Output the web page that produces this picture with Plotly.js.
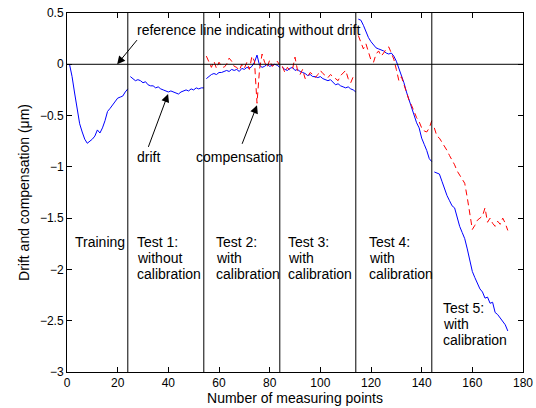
<!DOCTYPE html>
<html>
<head>
<meta charset="utf-8">
<script src="https://cdn.plot.ly/plotly-3.0.1.min.js"></script>
<style>html,body{margin:0;padding:0;background:#fff;}#chart{width:536px;height:408px;}</style>
</head>
<body>
<div id="chart"></div>
<script>
// Drift (blue) per segment, points are indexed 1..174
var driftTraining = [0,-0.12,-0.28,-0.45,-0.58,-0.66,-0.73,-0.77,-0.75,-0.73,-0.70,-0.64,-0.67,-0.62,-0.55,-0.46,-0.43,-0.40,-0.36,-0.33,-0.32,-0.31,-0.27,-0.24];
var driftTest1 = [-0.12,-0.14,-0.16,-0.15,-0.16,-0.18,-0.17,-0.20,-0.21,-0.21,-0.23,-0.22,-0.24,-0.25,-0.26,-0.27,-0.26,-0.27,-0.28,-0.29,-0.27,-0.26,-0.25,-0.26,-0.24,-0.25,-0.23,-0.24,-0.23,-0.23];
var driftTest2 = [-0.14,-0.12,-0.10,-0.09,-0.10,-0.08,-0.08,-0.07,-0.06,-0.07,-0.05,-0.06,-0.05,-0.07,-0.04,-0.05,-0.03,-0.04,-0.02,0.02,0.09,-0.01,-0.03,-0.02,0.00,-0.02,-0.01,0.00,-0.01,-0.03];
var driftTest3 = [-0.03,-0.05,-0.06,-0.04,-0.03,-0.06,-0.05,-0.07,-0.08,-0.09,-0.11,-0.10,-0.12,-0.12,-0.13,-0.12,-0.14,-0.15,-0.16,-0.15,-0.18,-0.20,-0.19,-0.21,-0.22,-0.23,-0.22,-0.24,-0.25,-0.27];
var driftTest4 = [0.44,0.43,0.38,0.31,0.26,0.22,0.19,0.16,0.15,0.14,0.13,0.11,0.10,0.11,0.08,0.03,-0.04,-0.10,-0.18,-0.27,-0.35,-0.43,-0.50,-0.57,-0.62,-0.72,-0.78,-0.84,-0.92,-0.95];
var driftTest5 = [-1.05,-1.06,-1.07,-1.14,-1.22,-1.28,-1.33,-1.38,-1.40,-1.50,-1.58,-1.64,-1.70,-1.80,-1.92,-2.02,-2.08,-2.13,-2.19,-2.22,-2.28,-2.27,-2.33,-2.32,-2.42,-2.44,-2.47,-2.51,-2.54,-2.60];
// Compensation (red dashed), tests 2..5
var compTest2 = [0.08,0.02,-0.03,0.03,-0.04,0.02,-0.02,-0.03,0.00,0.06,0.03,-0.02,-0.03,-0.06,0.00,-0.04,0.02,-0.05,0.08,0.03,-0.38,-0.05,0.10,0.02,-0.03,0.04,-0.02,0.00,0.03,-0.01];
var compTest3 = [-0.02,-0.08,-0.03,-0.06,-0.05,0.07,-0.06,-0.10,-0.05,-0.14,-0.12,-0.08,-0.10,-0.13,-0.10,-0.06,-0.09,-0.11,-0.13,-0.10,-0.12,-0.14,-0.16,-0.11,-0.08,-0.06,-0.14,-0.18,-0.12,-0.10];
var compTest4 = [0.28,0.22,0.15,0.20,0.12,0.04,0.02,0.10,0.13,0.08,0.11,0.15,0.17,0.10,0.05,-0.05,-0.16,-0.12,-0.20,-0.28,-0.35,-0.40,-0.46,-0.52,-0.56,-0.62,-0.65,-0.66,-0.62,-0.55];
var compTest5 = [-0.62,-0.70,-0.72,-0.76,-0.79,-0.84,-0.89,-0.93,-0.98,-1.04,-1.08,-1.12,-1.16,-1.30,-1.48,-1.61,-1.57,-1.52,-1.50,-1.48,-1.40,-1.54,-1.50,-1.55,-1.58,-1.53,-1.56,-1.50,-1.55,-1.62];
var boundaries = [24,54,84,114,144];
var segStarts = [1,25,55,85,115,145];
var xTicks = [0,20,40,60,80,100,120,140,160,180];
var yTicks = [-3,-2.5,-2,-1.5,-1,-0.5,0,0.5];
var phaseLabels = [['Training'],['Test 1:','without','calibration'],['Test 2:','with','calibration'],['Test 3:','with','calibration'],['Test 4:','with','calibration'],['Test 5:','with','calibration']];

function xs(start, n){var a=[];for(var i=0;i<n;i++)a.push(start+i);return a;}
var driftSegs = [driftTraining,driftTest1,driftTest2,driftTest3,driftTest4,driftTest5];
var compSegs = [null,null,compTest2,compTest3,compTest4,compTest5];
var traces = [];
driftSegs.forEach(function(s,i){
  traces.push({x:xs(segStarts[i],s.length),y:s,mode:'lines',line:{color:'#0000ff',width:1},showlegend:false,hoverinfo:'skip'});
});
compSegs.forEach(function(s,i){
  if(!s) return;
  traces.push({x:xs(segStarts[i],s.length),y:s,mode:'lines',line:{color:'#ff0000',width:1,dash:'6px,4px'},showlegend:false,hoverinfo:'skip'});
});

var shapes = boundaries.map(function(b){
  return {type:'line',xref:'x',yref:'y',x0:b,x1:b,y0:-3,y1:0.5,line:{color:'#000',width:1}};
});
shapes.push({type:'line',xref:'x',yref:'y',x0:0,x1:180,y0:0,y1:0,line:{color:'#000',width:1}});

var FT = {family:'Liberation Sans, Arial, sans-serif',size:12,color:'#000'};
var F = {family:'Liberation Sans, Arial, sans-serif',size:14,color:'#000'};
var ann = [];
// label anchor positions (left x, first line y) and line step in data units
var labelPos = [[2.8,-1.733],[27.3,-1.733],[58.5,-1.733],[86.9,-1.733],[118.9,-1.733],[148.1,-2.374]];
var lineStep = 0.158;
phaseLabels.forEach(function(lines,i){
  lines.forEach(function(t,j){
    ann.push({x:labelPos[i][0],y:labelPos[i][1]-j*lineStep,xref:'x',yref:'y',text:t,showarrow:false,xanchor:'left',yanchor:'middle',align:'left',borderpad:0,font:F});
  });
});
ann.push({x:27.3,y:0.33,xref:'x',yref:'y',text:'reference line indicating without drift',showarrow:false,xanchor:'left',yanchor:'middle',borderpad:0,font:F});
ann.push({x:32.2,y:-0.906,xref:'x',yref:'y',text:'drift',showarrow:false,xanchor:'center',yanchor:'middle',borderpad:0,font:F});
ann.push({x:68.1,y:-0.906,xref:'x',yref:'y',text:'compensation',showarrow:false,xanchor:'center',yanchor:'middle',borderpad:0,font:F});
// arrows
function arrow(tx,ty,hx,hy){
  return {x:hx,y:hy,ax:tx,ay:ty,xref:'x',yref:'y',axref:'x',ayref:'y',text:'',showarrow:true,arrowhead:2,arrowsize:1.6,arrowwidth:1,arrowcolor:'#000',standoff:0,startstandoff:0};
}
ann.push(arrow(28.1,0.25,19.8,0.0));
ann.push(arrow(31.9,-0.82,39.9,-0.29));
ann.push(arrow(68.9,-0.79,75.0,-0.40));

var layout = {
  width:536,height:408,
  margin:{l:67,r:13,t:13,b:36},
  paper_bgcolor:'#fff',plot_bgcolor:'#fff',
  font:FT,
  showlegend:false,
  xaxis:{range:[0,180],tickvals:xTicks,ticks:'inside',ticklen:5,tickcolor:'#000',showline:true,linecolor:'#000',linewidth:1,mirror:'ticks',showgrid:false,zeroline:false,
    title:{text:'Number of measuring points',font:F,standoff:0},automargin:false,tickfont:FT},
  yaxis:{range:[-3,0.5],tickvals:yTicks,ticks:'inside',ticklen:5,tickcolor:'#000',showline:true,linecolor:'#000',linewidth:1,mirror:'ticks',showgrid:false,zeroline:false,
    title:{text:'Drift and compensation (μm)',font:F,standoff:6},automargin:false,tickfont:FT},
  shapes:shapes,
  annotations:ann
};
Plotly.newPlot('chart',traces,layout,{staticPlot:true,displayModeBar:false});
</script>
</body>
</html>
